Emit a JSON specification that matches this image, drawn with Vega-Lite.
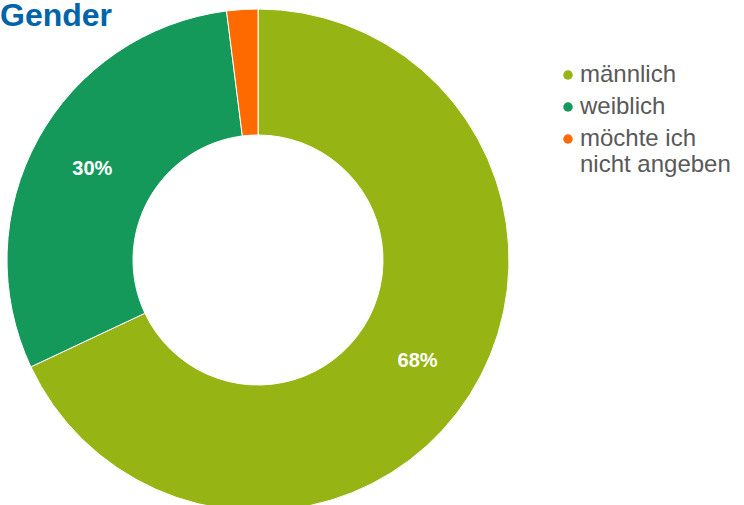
{
  "$schema": "https://vega.github.io/schema/vega-lite/v6.json",
  "width": 516,
  "height": 496,
  "padding": 0,
  "autosize": {"type": "pad"},
  "background": "white",
  "title": {
    "text": "Gender",
    "anchor": "start",
    "frame": "group",
    "orient": "top",
    "offset": 0,
    "dx": 0,
    "dy": 26,
    "fontSize": 32,
    "font": "Liberation Sans",
    "fontWeight": "bold",
    "color": "#0064A8"
  },
  "data": {
    "values": [
      {"gender": "männlich", "value": 68, "label": "68%"},
      {"gender": "weiblich", "value": 30, "label": "30%"},
      {"gender": "möchte ich nicht angeben", "value": 2, "label": ""}
    ]
  },
  "encoding": {
    "theta": {"field": "value", "type": "quantitative", "stack": true},
    "order": {"field": "value", "sort": "descending"},
    "color": {
      "field": "gender",
      "type": "nominal",
      "sort": ["männlich", "weiblich", "möchte ich nicht angeben"],
      "scale": {
        "domain": ["männlich", "weiblich", "möchte ich nicht angeben"],
        "range": ["#96B414", "#14995A", "#FF6A00"]
      },
      "legend": {
        "title": null,
        "orient": "none",
        "legendX": 556,
        "legendY": 51,
        "symbolType": "circle",
        "symbolSize": 90,
        "symbolStrokeWidth": 0,
        "labelFont": "Liberation Sans",
        "labelFontSize": 24,
        "labelColor": "#595959",
        "labelOffset": 0,
        "rowPadding": 8,
        "labelLimit": 300,
        "labelExpr": "datum.label == 'möchte ich nicht angeben' ? ['möchte ich', 'nicht angeben'] : datum.label"
      }
    }
  },
  "layer": [
    {
      "mark": {"type": "arc", "outerRadius": 251, "innerRadius": 125, "stroke": "white", "strokeWidth": 1}
    },
    {
      "mark": {"type": "text", "radius": 189, "font": "Liberation Sans", "fontSize": 20, "fontWeight": "bold", "color": "white"},
      "encoding": {
        "text": {"field": "label"},
        "color": {"value": "white"}
      }
    }
  ],
  "view": {"stroke": null}
}
